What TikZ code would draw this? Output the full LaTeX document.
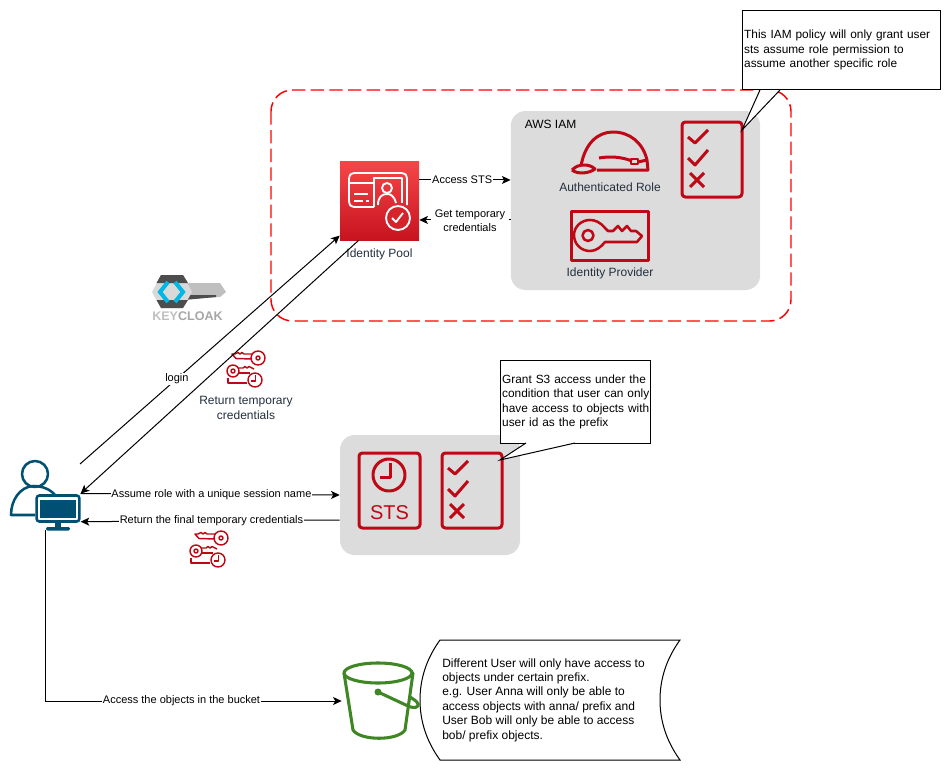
\documentclass[tikz,border=0pt]{standalone}
\usepackage{fontspec}
\setmainfont{Liberation Sans}
\usepackage{xcolor}
\definecolor{awsred}{HTML}{BF0816}
\definecolor{pooltop}{HTML}{F54749}
\definecolor{poolbot}{HTML}{C7131F}
\definecolor{awstext}{HTML}{232F3E}
\definecolor{awsgreen}{HTML}{3F8624}
\definecolor{usrblue}{HTML}{005073}
\definecolor{groupgrey}{HTML}{DCDCDC}
\definecolor{kcblue}{HTML}{00B8E3}
\definecolor{kcdark}{HTML}{4D4D4D}
\usetikzlibrary{calc,positioning,arrows.meta}
\tikzset{
  line/.style={draw, line width=0.75pt, -{Stealth[length=6.5pt,width=6pt,inset=1.6pt]}},
  lab/.style={fill=white, font=\fontsize{8.25}{10.5}\selectfont, inner sep=0.6pt, align=center},
  awslab/.style={text=awstext, font=\fontsize{9}{10.8}\selectfont, inner sep=0pt, align=center},
  group/.style={rectangle, fill=groupgrey, rounded corners=11pt},
  frame/.style={draw=red, line width=1.1pt, dash pattern=on 10pt off 4pt, rounded corners=16pt},
  note/.style={rectangle, draw=black, fill=white, line width=0.75pt, inner xsep=1pt, inner ysep=1pt, align=left, font=\fontsize{8.9}{10.8}\selectfont},
  tail/.style={draw=black, fill=white, line width=0.75pt},
  spot/.style={rectangle, inner sep=0pt},
  ico/.style={draw=awsred, line width=2.25pt, line join=round},
  thinico/.style={draw=awsred, line width=1.1pt, line join=round},
  wico/.style={draw=white, line width=1.4pt, line join=round},
  usr/.style={draw=usrblue, line width=1.9pt, line join=round},
  buck/.style={draw=awsgreen, line width=2.3pt, line join=round, line cap=round},
  checklist/.pic={
    \draw[ico, rounded corners=2.5pt] (0,0) rectangle (60,75);
    \draw[ico] (6,15) -- (13,21) -- (26,8);
    \draw[ico] (6,36) -- (13,43) -- (26,28);
    \draw[ico] (8,51) -- (22,65);
    \draw[ico] (22,51) -- (8,65);
  },
  creds/.pic={
    \draw[thinico] (31,7) circle (7);
    \draw[thinico] (31,7) circle (2);
    \draw[thinico] (25,3) -- (17,3) -- (15,1.5) -- (13,3) -- (11,1.5) -- (8,3) -- (5,3) -- (9,7.5) -- (25,8);
    \draw[thinico] (6,20) circle (6);
    \draw[thinico] (6,20) circle (2);
    \draw[thinico] (11,17) -- (16,17) -- (18,15.5) -- (20,17) -- (22,15.5) -- (25,17) -- (27,18);
    \draw[thinico] (11,22) -- (23,22);
    \draw[thinico] (28,29) circle (7);
    \draw[thinico] (28.5,24) -- (28.5,30) -- (24,30);
    \draw[thinico] (1,27) -- (1,32) -- (20,32);
  },
}

\begin{document}
\begin{tikzpicture}[x=0.75pt,y=-0.75pt]
    \useasboundingbox (0,0) rectangle (951,771);

    \path[frame] (271,90) rectangle (791,321);
    \node[group, minimum width=187pt, minimum height=134.25pt] (iam) at (635.5,200.5) {};
    \node[group, minimum width=135pt, minimum height=90pt] (sts) at (430,495) {};
    \node[anchor=west, inner sep=0pt, font=\fontsize{9}{10.8}\selectfont] (iamname) at (524.5,124.5) {AWS IAM};

    % identity pool
    \node[spot, minimum size=59.25pt, top color=pooltop, bottom color=poolbot] (pool) at (379.5,200.5) {};
    \draw[wico, rounded corners=2pt] (374,207) -- (352,207) -- (349,204) -- (349,176) -- (352,173) -- (404,173) -- (407,176) -- (407,205);
    \draw[wico] (349,183) -- (374,183);
    \draw[wico] (374,207) -- (374,178) -- (402,178) -- (402,203);
    \draw[wico] (387,188) circle (5);
    \draw[wico] (378,205) .. controls (378,197) and (382,194) .. (387,194) .. controls (391,194) and (394,196) .. (396,203);
    \draw[wico] (354,194) -- (368,194);
    \draw[wico] (354,201) -- (363,201) (366,201) -- (369,201);
    \draw[wico, fill=poolbot!70!pooltop] (398,218) circle (12);
    \draw[wico] (392,218) -- (396,222) -- (403,213);
    \node[awslab, below=6.5pt of pool] (poolname) {Identity Pool};

    % helmet
    \draw[ico] (581,166) .. controls (585,143) and (598,132) .. (613,132) .. controls (630,132) and (643,143) .. (647,160) -- (648,170) -- (597,170);
    \draw[ico] (572,170) .. controls (576,166) and (580,165) .. (584,165) .. controls (588,165) and (592,166) .. (595,169) .. controls (590,173) and (578,175) .. (572,170);
    \draw[ico] (599,158) .. controls (610,156) and (622,157) .. (632,161);
    \draw[ico, line width=1.4pt] (631,159) rectangle (638,164);
    \draw[ico] (638,162) -- (647,160);
    \node[awslab] (rolename) at (610,187.5) {Authenticated Role};
    \pic at (682,122) {checklist};

    % identity provider
    \draw[ico] (571,211) rectangle (648,260);
    \draw[ico, line width=1.9pt] (605,228) .. controls (600,222) and (595,220) .. (590,220) .. controls (581,220) and (574,227) .. (574,235) .. controls (574,244) and (581,251) .. (590,251) .. controls (596,251) and (601,247) .. (605,242) -- (637,242) -- (642,236) -- (636,231) -- (631,231) -- (627,226) -- (622,231) -- (618,226) -- (613,231) -- (608,231) -- cycle;
    \draw[ico, line width=1.9pt] (588,235.5) circle (5.5);
    \node[awslab] (providername) at (610,273.5) {Identity Provider};

    % sts group
    \draw[ico, rounded corners=2.5pt] (359,453) rectangle (420,528);
    \draw[ico] (389,475) circle (16);
    \draw[ico] (390,463) -- (390,477) -- (380,477);
    \node[text=awsred, font=\fontsize{15}{15}\selectfont, inner sep=0pt] (stsname) at (389.5,512.5) {STS};
    \pic at (442,453) {checklist};

    % keycloak
    \fill[gray!50] (178,283) -- (220,283) -- (226,292) -- (220,297) -- (178,300) -- cycle;
    \fill[kcdark] (184,295) -- (216,295) -- (216,297) -- (184,300) -- cycle;
    \fill[gray!30] (152,292) -- (161,275) -- (183,275) -- (192,292) -- (183,308) -- (161,308) -- cycle;
    \fill[kcdark] (161,275) -- (183,275) -- (188,283) -- (156.5,283) -- cycle;
    \fill[kcdark] (161,308) -- (183,308) -- (188,300) -- (156.5,300) -- cycle;
    \draw[kcblue, line width=3pt] (168,282) -- (160,292) -- (168,302);
    \draw[kcblue, line width=3pt] (175,282) -- (183,292) -- (175,302);
    \node[inner sep=0pt, font=\fontsize{9.4}{10}\selectfont\bfseries] (kcname) at (187.5,316.5) {\textcolor{gray!50}{KEY}\textcolor{gray!70}{CLOAK}};

    \pic at (227,351) {creds};
    \node[awslab] (retname) at (246,408) {Return temporary\\credentials};
    \pic at (190,531) {creds};

    % user
    \draw[usr] (35,474) circle (13);
    \draw[usr] (35,515) -- (11,515) .. controls (11,500) and (20,487) .. (33,486) .. controls (42,486) and (50,489) .. (55,495);
    \node[spot, draw=usrblue, line width=1.9pt, rounded corners=2pt, minimum width=32pt, minimum height=19.5pt] (monitor) at (58,508.5) {};
    \fill[usrblue] (40,500) rectangle (76,518);
    \fill[usrblue] (55,522) rectangle (61,528);
    \fill[usrblue, rounded corners=1pt] (46,527) rectangle (70,530.5);

    % bucket
    \node[spot, minimum width=57pt, minimum height=58.5pt] (bucket) at (380,701) {};
    \draw[buck] (378,673) ellipse (34 and 10);
    \draw[buck] (344,673) -- (353,730) .. controls (360,741) and (398,741) .. (405,730) -- (413,673);
    \fill[awsgreen] (378,692) circle (3.5);
    \draw[buck] (378,692) -- (408,706) .. controls (415,709) and (419,707) .. (418,704) .. controls (417,701) and (413,699) .. (410,697);

    \coordinate (loginstart) at (80,464);
    \coordinate (userfoot) at (45,530);

    \begin{scope}[every path/.style=line]
      \path ([yshift=15.4pt]pool.east) -- node[lab, pos=.47] {Access STS} ([yshift=15.4pt]iam.west);
      \path ([yshift=-14.6pt]iam.west) -- node[lab, pos=.445, inner xsep=2.6pt, yshift=-.8pt] {Get temporary\\credentials} ([yshift=-14.6pt]pool.east);
      \path (loginstart) -- node[lab, pos=.373] {login} ([yshift=3.5pt]pool.south west);
      \path ([xshift=14.25pt]pool.south west) -- ([yshift=.5pt]monitor.north east);
      \path ([yshift=.5pt]monitor.north east) -- node[lab, pos=.505] {Assume role with a unique session name} (sts.west);
      \path ([yshift=-18.75pt]sts.west) -- node[lab, pos=.495] {Return the final temporary credentials} ([yshift=.8pt]monitor.south east);
      \path (userfoot) |- node[lab, pos=.73] {Access the objects in the bucket} (bucket.west);
    \end{scope}

    % notes
    \node[note, text width=146pt, minimum height=59.6pt] (policy) at (841.5,50.2) {This IAM policy will only grant user\\sts assume role permission to\\assume another specific role};
    \path[tail] (760,90) -- (742,130) -- (780,90);
    \node[note, text width=110pt, minimum height=62pt] (grant) at (575.5,401.8) {Grant S3 access under the\\\mbox{condition that user can only}\\\mbox{have access to objects with}\\user id as the prefix};
    \path[tail] (526,443) -- (500,460) -- (575,443);
    \draw[tail] (440,640) -- (680,640) .. controls (667,658) and (660,678) .. (660,700) .. controls (660,722) and (667,742) .. (680,760) -- (440,760) .. controls (427,742) and (420,722) .. (420,700) .. controls (420,678) and (427,658) .. (440,640) -- cycle;
    \node[anchor=west, inner sep=0pt, align=left, font=\fontsize{9}{10.8}\selectfont] (prefixnote) at (442,700) {Different User will only have access to\\objects under certain prefix.\\e.g. User Anna will only be able to\\access objects with anna/ prefix and\\User Bob will only be able to access\\bob/ prefix objects.};
\end{tikzpicture}
\end{document}
